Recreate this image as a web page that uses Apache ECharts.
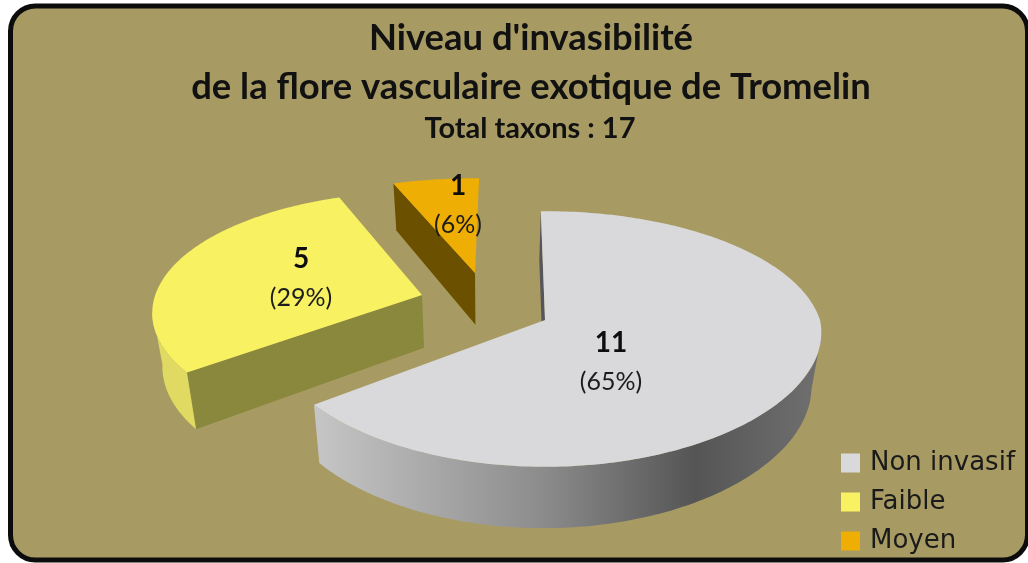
<!DOCTYPE html>
<html>
<head>
<meta charset="utf-8">
<style>
html, body { margin: 0; padding: 0; background: #fff; }
#chart { width: 1028px; height: 563px; }
</style>
<script src="https://cdn.jsdelivr.net/npm/echarts@6/dist/echarts.min.js"></script>
</head>
<body>
<div id="chart"></div>
<script>
// data
var categories = ['Non invasif', 'Faible', 'Moyen'];
var values = [11, 5, 1];
var percents = [65, 29, 6];

// look of each slice
var topColors = ['#d9d9dc', '#f8f262', '#efae04'];
var cutColors = ['#55555a', '#8a883c', '#6b5000'];
var rimColors = [null, '#e0da62', '#c89000'];
var explode = [[55, 20], [-68, -5], [-15, -27]];
var scaleX = [1, 0.97, 0.98];
var scaleY = [1, 0.95, 0.87];
var frontX = [-0.05, 0, 0];
var angleNudge = [0, 1.5, 2];
var labelOffset = [[66, 42], [-121, -17], [-17, -68]];

// fake 3D projection of the pie
var pieCenter = [490, 300];
var startAngle = -1;
var radiusX = 275;
var radiusY = 125;
var tilt = 0.1485;
var vanishX = 490;

var total = 0;
for (var i = 0; i < values.length; i++) {
    total += values[i];
}

function project(idx, deg) {
    var rad = deg * Math.PI / 180;
    var u = Math.sin(rad);
    var v = -Math.cos(rad);
    var denom = 1 - tilt * v;
    return [
        pieCenter[0] + explode[idx][0] + radiusX * scaleX[idx] * u / denom * (1 + frontX[idx] * Math.max(v, 0)),
        pieCenter[1] + explode[idx][1] + radiusY * scaleY[idx] * v / denom
    ];
}

function drop(p) {
    return [p[0] + (vanishX - p[0]) * 0.03, p[1] + 54 + (p[1] - 320) * 0.05];
}

function face(points, fill) {
    return {
        type: 'polygon',
        shape: { points: points },
        style: { fill: fill }
    };
}

function sliceRenderer(idx) {
    return function (params, api) {
        var before = 0;
        for (var j = 0; j < idx; j++) {
            before += values[j];
        }
        var a0 = startAngle + angleNudge[idx] + before / total * 360;
        var a1 = a0 + api.value(0) / total * 360;
        var apex = [pieCenter[0] + explode[idx][0], pieCenter[1] + explode[idx][1]];

        var arc = [];
        var rim = [];
        for (var a = a0; a < a1; a += 1) {
            arc.push(project(idx, a));
            // only the part of the edge that faces the viewer
            if (-Math.cos(a * Math.PI / 180) > 0.12) {
                rim.push(project(idx, a));
            }
        }
        arc.push(project(idx, a1));
        if (-Math.cos(a1 * Math.PI / 180) > 0.12) {
            rim.push(project(idx, a1));
        }

        var rimFill = rimColors[idx];
        if (!rimFill) {
            rimFill = new echarts.graphic.LinearGradient(0, 0, 1, 0, [
                { offset: 0, color: '#c6c6c6' },
                { offset: 0.45, color: '#8c8c8c' },
                { offset: 0.75, color: '#555555' },
                { offset: 1, color: '#707070' }
            ]);
        }

        var first = arc[0];
        var children = [
            face([apex, first, drop(first), drop(apex)], cutColors[idx])
        ];
        if (rim.length > 1) {
            children.push(face(rim.concat(rim.map(drop).reverse()), rimFill));
        }
        children.push(face([apex].concat(arc), topColors[idx]));
        children.push({
            type: 'text',
            x: apex[0] + labelOffset[idx][0],
            y: apex[1] + labelOffset[idx][1],
            style: {
                text: '{n|' + api.value(0) + '}\n{p|(' + percents[idx] + '%)}',
                align: 'center',
                verticalAlign: 'middle',
                rich: {
                    n: { fontFamily: 'Lato', fontWeight: 'bold', fontSize: 28, lineHeight: 40, fill: '#0e0e0e', align: 'center' },
                    p: { fontFamily: 'Lato', fontSize: 25, lineHeight: 38, fill: '#1c1c1c', align: 'center' }
                }
            }
        });
        return { type: 'group', children: children };
    };
}

var series = [];
for (var s = values.length - 1; s >= 0; s--) {
    series.push({
        type: 'custom',
        name: categories[s],
        coordinateSystem: 'none',
        itemStyle: { color: topColors[s] },
        renderItem: sliceRenderer(s),
        data: [[values[s]]]
    });
}

var chart = echarts.init(document.getElementById('chart'));
chart.setOption({
    animation: false,
    backgroundColor: '#ffffff',
    graphic: [{
        type: 'rect',
        z: -10,
        shape: { x: 10.5, y: 6, width: 1017, height: 554, r: 25 },
        style: { fill: '#a79b63', stroke: '#0c0c0c', lineWidth: 5 }
    }],
    title: [{
        text: "Niveau d'invasibilité\nde la flore vasculaire exotique de Tromelin",
        left: 526,
        top: 9,
        textAlign: 'center',
        textStyle: { fontFamily: 'Lato', fontWeight: 'bold', fontSize: 36.4, lineHeight: 49, color: '#111111' }
    }, {
        text: 'Total taxons : 17',
        left: 525,
        top: 109,
        textAlign: 'center',
        textStyle: { fontFamily: 'Lato', fontWeight: 'bold', fontSize: 29, color: '#111111' }
    }],
    legend: {
        orient: 'vertical',
        left: 836,
        top: 445,
        icon: 'rect',
        itemWidth: 19,
        itemHeight: 19,
        itemGap: 13,
        data: categories,
        textStyle: { fontFamily: 'DejaVu Sans', fontSize: 26, color: '#1a1a1a', padding: [0, 0, 0, 5] }
    },
    series: series
});
</script>
</body>
</html>
